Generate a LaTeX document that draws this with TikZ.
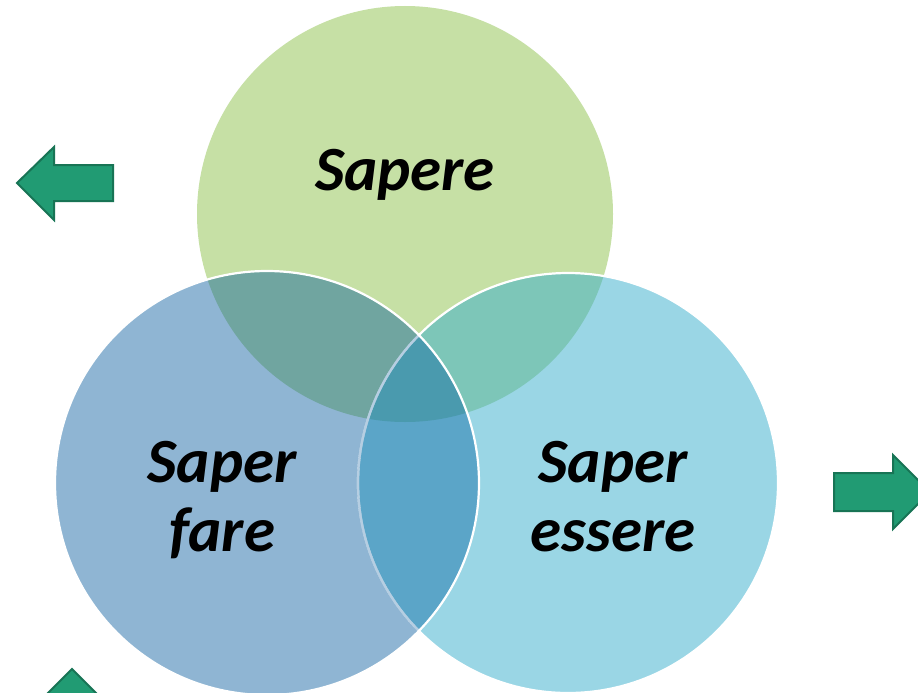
\documentclass[tikz,border=0pt]{standalone}
\usepackage{fontspec}
\setmainfont{Carlito}
\definecolor{cTop}{HTML}{C6E0A5}
\definecolor{cLeft}{HTML}{8FB5D3}
\definecolor{cRight}{HTML}{9AD6E5}
\definecolor{cTL}{HTML}{70A5A0}
\definecolor{cTR}{HTML}{7DC6B8}
\definecolor{cLR}{HTML}{5BA5C8}
\definecolor{cAll}{HTML}{4A9AAE}
\definecolor{arrFill}{HTML}{219B73}
\definecolor{arrEdge}{HTML}{187455}
\tikzset{
  lbl/.style={font=\fontsize{63}{69}\selectfont\bfseries\itshape, inner sep=0pt, text=black},
  arrowshape/.style={fill=arrFill, draw=arrEdge, line width=2pt, line join=miter},
  rim/.style={draw=white, line width=2.2pt}
}
\begin{document}
\begin{tikzpicture}[x=1pt,y=-1pt]
\clip (0,0) rectangle (918,693);
\fill[white] (0,0) rectangle (918,693);
\coordinate (T) at (405,214);
\coordinate (L) at (267,483);
\coordinate (R) at (568,483);
\def\rT{208pt}\def\rL{212pt}\def\rR{210pt}
% base circles
\fill[cTop] (T) circle[radius=\rT];
\fill[cRight] (R) circle[radius=\rR];
\fill[cLeft] (L) circle[radius=\rL];
% pairwise overlaps
\begin{scope}\clip (T) circle[radius=\rT]; \fill[cTL] (L) circle[radius=\rL];\end{scope}
\begin{scope}\clip (T) circle[radius=\rT]; \fill[cTR] (R) circle[radius=\rR];\end{scope}
\begin{scope}\clip (L) circle[radius=\rL]; \fill[cLR] (R) circle[radius=\rR];\end{scope}
\begin{scope}\clip (T) circle[radius=\rT]; \clip (L) circle[radius=\rL]; \fill[cAll] (R) circle[radius=\rR];\end{scope}
% outlines
\draw[rim] (R) circle[radius=\rR];
\begin{scope}\clip (L) circle[radius=\rL];
  \draw[draw=cLeft, line width=2.4pt, opacity=0.65] (R) circle[radius=\rR];
\end{scope}
\draw[rim] (L) circle[radius=\rL];
% labels
\node[lbl, anchor=base] (sapere) at (405,190) {Sapere};
\node[lbl, align=center, anchor=base] (fare) at (222,551) {Saper\\fare};
\node[lbl, align=center, anchor=base] (essere) at (613,551) {Saper\\essere};
% arrows
\draw[arrowshape] (113,165) -- (54,165) -- (54,147) -- (17,183) -- (54,220) -- (54,201) -- (113,201) -- cycle;
\draw[arrowshape] (834,473) -- (893,473) -- (893,455) -- (930,492) -- (893,529) -- (893,511) -- (834,511) -- cycle;
\draw[arrowshape] (90,740) -- (90,706) -- (109,706) -- (72,669) -- (35,706) -- (54,706) -- (54,740) -- cycle;
\end{tikzpicture}
\end{document}
